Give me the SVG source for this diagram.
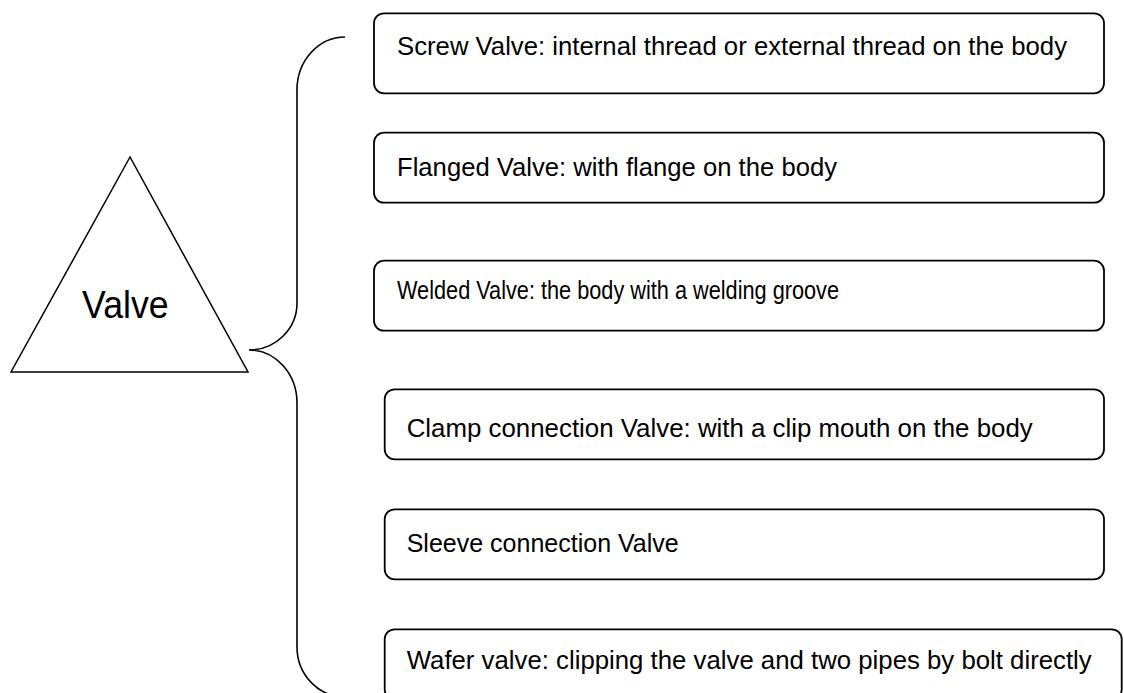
<svg xmlns="http://www.w3.org/2000/svg" width="1124" height="693" viewBox="0 0 1124 693">
<style>
.box{fill:#fff;stroke:#000;stroke-width:1.8}
.t{font-family:"Liberation Sans",Arial,sans-serif;font-size:25px;fill:#000}
.line{fill:none;stroke:#000;stroke-width:1.6}
</style>
<rect width="1124" height="693" fill="#fff"/>
<g id="valve">
<polygon points="130,157 11,372 248,372" fill="#fff" stroke="#000" stroke-width="1.5"/>
<text x="82" y="318" style="font-family:'Liberation Sans',Arial,sans-serif;font-size:38px" textLength="86.6" lengthAdjust="spacingAndGlyphs">Valve</text>
</g>
<g id="connectors">
<path class="line" d="M345,37 C318.5,37 297,60.7 297,90 L297,303 C297,329 275.5,350 249,350 C275.5,350 297,373.7 297,403 L297,647 C297,674.6 318.5,697 345,697"/>
</g>
<g id="screw">
<rect class="box" x="374" y="13.3" width="730" height="80" rx="10"/>
<text class="t" x="397" y="55" textLength="670" lengthAdjust="spacingAndGlyphs">Screw Valve: internal thread or external thread on the body</text>
</g>
<g id="flanged">
<rect class="box" x="374" y="132.7" width="730" height="70" rx="10"/>
<text class="t" x="397" y="176" textLength="440" lengthAdjust="spacingAndGlyphs">Flanged Valve: with flange on the body</text>
</g>
<g id="welded">
<rect class="box" x="374" y="260.7" width="730" height="70" rx="10"/>
<text class="t" x="397" y="299" textLength="442" lengthAdjust="spacingAndGlyphs">Welded Valve: the body with a welding groove</text>
</g>
<g id="clamp">
<rect class="box" x="384.7" y="389.3" width="719.3" height="70" rx="10"/>
<text class="t" x="406.7" y="437" textLength="626" lengthAdjust="spacingAndGlyphs">Clamp connection Valve: with a clip mouth on the body</text>
</g>
<g id="sleeve">
<rect class="box" x="384.7" y="509.3" width="719.3" height="70" rx="10"/>
<text class="t" x="406.7" y="552" textLength="272" lengthAdjust="spacingAndGlyphs">Sleeve connection Valve</text>
</g>
<g id="wafer">
<rect class="box" x="384.7" y="629.3" width="737" height="70" rx="10"/>
<text class="t" x="406.7" y="669" textLength="685" lengthAdjust="spacingAndGlyphs">Wafer valve: clipping the valve and two pipes by bolt directly</text>
</g>
</svg>
